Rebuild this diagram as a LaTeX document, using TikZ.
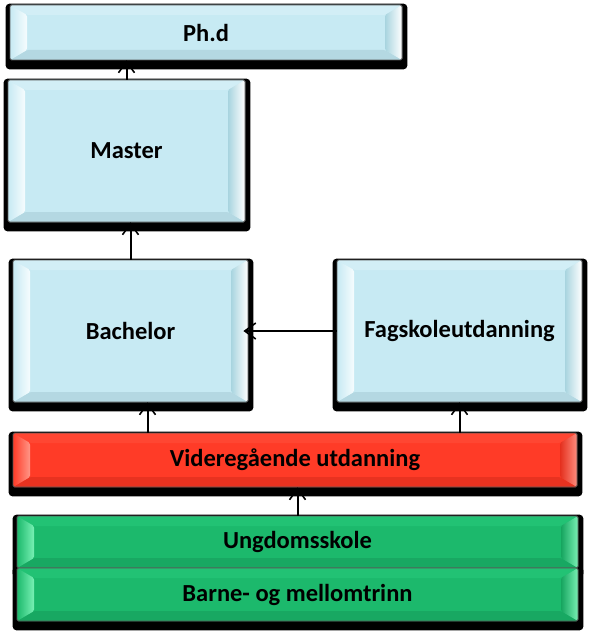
\documentclass[tikz,border=0pt]{standalone}
\usepackage{fontspec}
\setmainfont{Carlito}
\usetikzlibrary{arrows.meta,backgrounds}

\definecolor{bluface}{RGB}{199,234,243}
\definecolor{blulft}{RGB}{246,252,254}
\definecolor{blutop}{RGB}{210,238,246}
\definecolor{bluin}{RGB}{168,212,223}
\definecolor{blubot}{RGB}{180,216,226}
\definecolor{redface}{RGB}{255,59,39}
\definecolor{redlft}{RGB}{255,150,135}
\definecolor{redtop}{RGB}{255,70,50}
\definecolor{redin}{RGB}{228,48,30}
\definecolor{redout}{RGB}{255,140,125}
\definecolor{redbot}{RGB}{232,50,32}
\definecolor{grnface}{RGB}{28,185,108}
\definecolor{grnlft}{RGB}{120,240,180}
\definecolor{grntop}{RGB}{34,194,116}
\definecolor{grnin}{RGB}{22,165,95}
\definecolor{grnout}{RGB}{120,240,180}
\definecolor{grnbot}{RGB}{24,168,98}

\begin{document}
\begin{tikzpicture}[x=1pt,y=-1pt,
    box/.style={rectangle,rounded corners=1.5pt,draw=black!65,line width=0.8pt,inner sep=0pt,
      font=\fontsize{24.5}{28}\selectfont\bfseries},
    bevel/.style n args={6}{fill=#1,path picture={
        \coordinate(pnw)at(path picture bounding box.north west);
        \coordinate(pse)at(path picture bounding box.south east);
        \coordinate(pne)at(pnw-|pse);
        \coordinate(psw)at(pnw|-pse);
        \fill[#3](pnw)--(pne)--([xshift=-17pt,yshift=-10pt]pne)--([xshift=17pt,yshift=-10pt]pnw)--cycle;
        \fill[#6](psw)--(pse)--([xshift=-17pt,yshift=10pt]pse)--([xshift=17pt,yshift=10pt]psw)--cycle;
        \shade[left color=#1,right color=#2](pnw)--([xshift=17pt,yshift=-10pt]pnw)--([xshift=17pt,yshift=10pt]psw)--(psw)--cycle;
        \shade[left color=#4,right color=#5](pne)--([xshift=-17pt,yshift=-10pt]pne)--([xshift=-17pt,yshift=10pt]pse)--(pse)--cycle;
      }},
    blubox/.style={box,bevel={bluface}{blulft}{blutop}{bluin}{white}{blubot}},
    redbox/.style={box,bevel={redface}{redlft}{redtop}{redin}{redout}{redbot}},
    grnbox/.style={box,bevel={grnface}{grnlft}{grntop}{grnin}{grnout}{grnbot}},
    arr/.style={-{Straight Barb[length=11pt,width=16pt,line width=1.6pt]},line width=2pt}]
        \useasboundingbox(0,0)rectangle(590,636);

        \node[blubox,minimum width=392pt,minimum height=55pt](phd)at(206,32.5){Ph.d};
        \node[blubox,minimum width=237pt,minimum height=142pt](master)at(126.5,151){Master};
        \node[blubox,minimum width=235pt,minimum height=142pt](bachelor)at(130.5,331){Bachelor};
        \node[blubox,minimum width=245pt,minimum height=142pt](fagskole)at(459.5,331){Fagskoleutdanning};
        \node[redbox,minimum width=564pt,minimum height=54pt](vgs)at(295,460){Videregående utdanning};
        \node[grnbox,minimum width=561pt,minimum height=52pt](ungdom)at(297.5,542){Ungdomsskole};
        \node[grnbox,minimum width=561pt,minimum height=53pt](barne)at(297.5,594.5){Barne- og mellomtrinn};

        \begin{scope}[on background layer]
            \foreach \n in {phd,master,bachelor,fagskole,vgs,ungdom,barne}
                \fill[black,rounded corners=4pt]([xshift=-4pt,yshift=1pt]\n.north west)rectangle([xshift=5pt,yshift=-9pt]\n.south east);
        \end{scope}

        \coordinate(bin)at([xshift=17pt]bachelor.south);
        \coordinate(bend)at([xshift=-5pt]bachelor.east);
        \draw[arr](master.north)--(master.north|-phd.south);
        \draw[arr](bachelor.north)--(bachelor.north|-master.south);
        \draw[arr](fagskole.west)--(bend);
        \draw[arr](bin|-vgs.north)--(bin);
        \draw[arr](fagskole.south|-vgs.north)--(fagskole.south);
        \draw[arr](ungdom.north)--(ungdom.north|-vgs.south);
    \end{tikzpicture}
\end{document}
